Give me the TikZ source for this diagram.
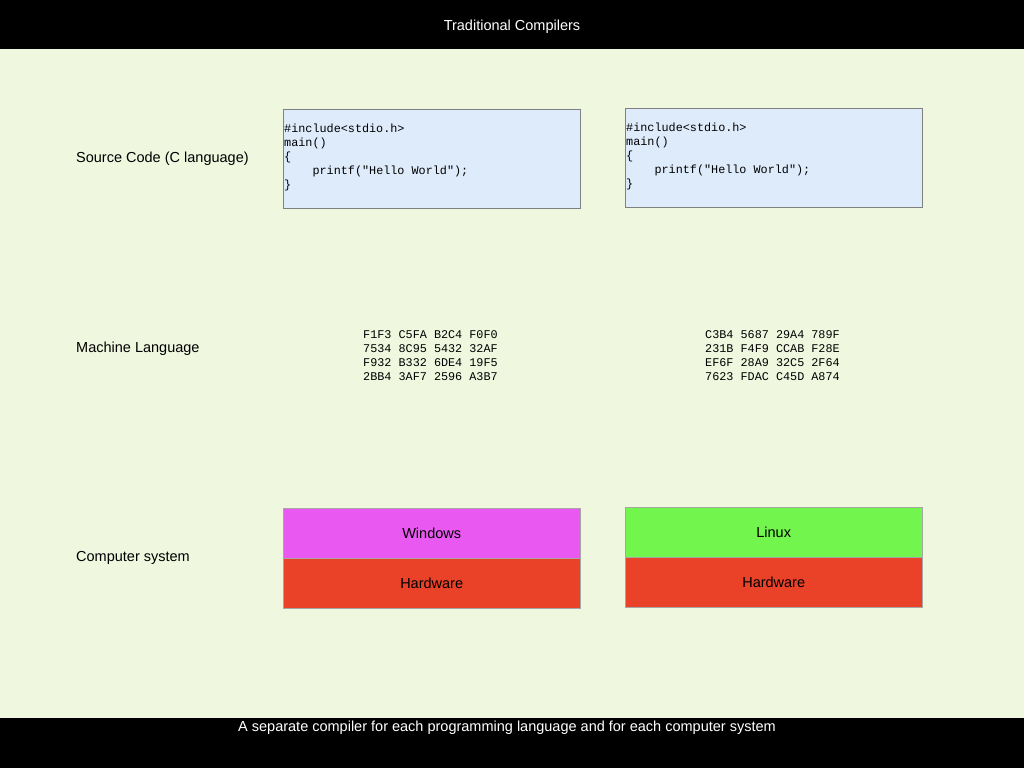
\documentclass[tikz,border=0pt]{standalone}
\usepackage{fontspec}
\setmainfont{Liberation Sans}
\setmonofont{Liberation Mono}
\definecolor{bg}{HTML}{EFF7DF}
\definecolor{codebg}{HTML}{DEEBFB}
\definecolor{win}{HTML}{E958F0}
\definecolor{lin}{HTML}{72F54C}
\definecolor{hw}{HTML}{EA4229}
\begin{document}
\begin{tikzpicture}[x=1pt,y=-1pt,
  lbl/.style={anchor=west,font=\fontsize{14.5}{17}\selectfont,inner sep=0},
  codebox/.style={draw=gray,fill=codebg,minimum width=297,minimum height=99,anchor=north west,inner sep=0},
  code/.style={anchor=north west,align=left,font=\ttfamily\fontsize{11.8}{14}\selectfont,inner sep=0},
  layer/.style={draw=gray!70,minimum width=297,minimum height=50,anchor=north west,inner sep=0,font=\fontsize{14.5}{17}\selectfont}]
\useasboundingbox (0,0) rectangle (1024,768);
\fill[bg] (0,0) rectangle (1024,768);
\fill[black] (0,0) rectangle (1024,49);
\fill[black] (0,718) rectangle (1024,768);
\node[text=white,font=\fontsize{14.5}{17}\selectfont] (title) at (512,27) {Traditional Compilers};
\node[text=white,font=\fontsize{14.5}{17}\selectfont] (foot) at (507,728) {A separate compiler for each programming language and for each computer system};
\node[lbl] (l1) at (76,159) {Source Code (C language)};
\node[lbl] (l2) at (76,349) {Machine Language};
\node[lbl] (l3) at (76,558) {Computer system};
\node[codebox] (c1) at (283,109) {};
\node[codebox] (c2) at (625,108) {};
\node[code] (t1) at (284,124) {\#include<stdio.h>\\main()\\\{\\\ \ \ \ printf("Hello World");\\\}};
\node[code] (t2) at (626,123) {\#include<stdio.h>\\main()\\\{\\\ \ \ \ printf("Hello World");\\\}};
\node[code] (m1) at (363,330) {F1F3 C5FA B2C4 F0F0\\7534 8C95 5432 32AF\\F932 B332 6DE4 19F5\\2BB4 3AF7 2596 A3B7};
\node[code] (m2) at (705,330) {C3B4 5687 29A4 789F\\231B F4F9 CCAB F28E\\EF6F 28A9 32C5 2F64\\7623 FDAC C45D A874};
\node[layer,fill=win] (w) at (283,508) {Windows};
\node[layer,fill=hw] (h1) at (283,558) {Hardware};
\node[layer,fill=lin] (lx) at (625,507) {Linux};
\node[layer,fill=hw] (h2) at (625,557) {Hardware};
\end{tikzpicture}
\end{document}
